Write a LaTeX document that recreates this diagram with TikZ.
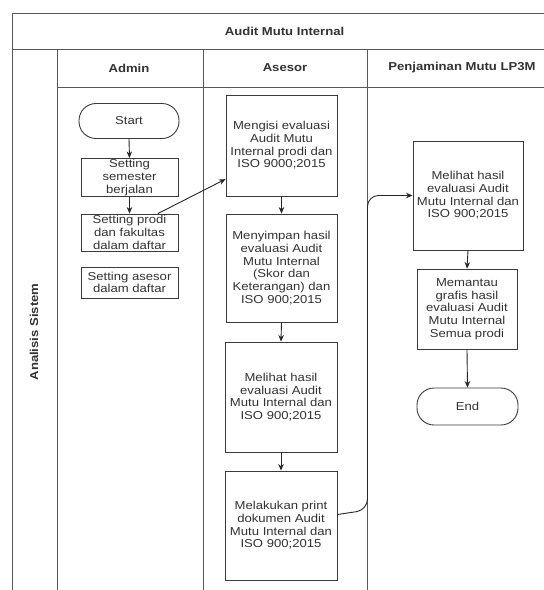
\documentclass[tikz,border=0pt]{standalone}
\usepackage{fontspec}
\setmainfont{Liberation Sans}[FakeStretch=1.14]
\usetikzlibrary{arrows.meta,calc}
\definecolor{ln}{HTML}{3A3A3A}
\definecolor{tx}{HTML}{333333}
\tikzset{
  box/.style={draw=ln,line width=0.9pt,rectangle,align=center,inner sep=1pt,text=tx,
    font=\fontsize{11.5}{12.7}\selectfont},
  term/.style={box,rounded corners=17pt},
  hdr/.style={font=\bfseries\fontsize{11.5}{12}\selectfont,text=tx},
  lane/.style={draw=ln!85,line width=0.9pt},
  arr/.style={draw=black!85,line width=0.9pt,-{Stealth[length=6.5pt,width=5.5pt]}}
}
\begin{document}
\begin{tikzpicture}[x=1pt,y=-1pt]
\useasboundingbox (0,0) rectangle (544,590);
\clip (0,0) rectangle (544,590);
\fill[white] (0,0) rectangle (544,590);
% pool
\draw[lane] (12,620) -- (12,13) -- (557,13) -- (557,620);
\draw[lane] (12,49) -- (557,49);
\draw[lane] (57,87) -- (557,87);
\draw[lane] (57,49) -- (57,620);
\draw[lane] (203,49) -- (203,620);
\draw[lane] (367,49) -- (367,620);
\node[hdr] (title) at (284.5,31) {Audit Mutu Internal};
\node[hdr] (hAdmin) at (129,68) {Admin};
\node[hdr] (hAses) at (285,68) {Asesor};
\node[hdr] (hPM) at (462,68) {Penjaminan Mutu LP3M};
\node[hdr,rotate=90] (pool) at (34,332) {Analisis Sistem};
% admin
\node[term,minimum width=100pt,minimum height=35pt] (start) at (129,121) {Start};
\node[box,minimum width=97pt,minimum height=37pt] (s1) at (129.5,177.5) {Setting\\semester\\berjalan};
\node[box,minimum width=97pt,minimum height=37pt] (s2) at (129.5,232.5) {Setting prodi\\dan fakultas\\dalam daftar};
\node[box,minimum width=97pt,minimum height=31pt] (s3) at (129.5,282.5) {Setting asesor\\dalam daftar};
% asesor
\node[box,minimum width=111pt,minimum height=101pt] (a1) at (281.5,145.5) {Mengisi evaluasi\\Audit Mutu\\Internal prodi dan\\ISO 9000;2015};
\node[box,minimum width=111pt,minimum height=108pt] (a2) at (281.5,268) {Menyimpan hasil\\evaluasi Audit\\Mutu Internal\\(Skor dan\\Keterangan) dan\\ISO 900;2015};
\node[box,minimum width=112pt,minimum height=110pt] (a3) at (281,397) {Melihat hasil\\evaluasi Audit\\Mutu Internal dan\\ISO 900;2015};
\node[box,minimum width=112pt,minimum height=109pt] (a4) at (281,525.5) {Melakukan print\\dokumen Audit\\Mutu Internal dan\\ISO 900;2015};
% penjaminan
\node[box,minimum width=110pt,minimum height=109pt] (p1) at (468,195.5) {Melihat hasil\\evaluasi Audit\\Mutu Internal dan\\ISO 900;2015};
\node[box,minimum width=100pt,minimum height=80pt] (p2) at (467,309) {Memantau\\grafis hasil\\evaluasi Audit\\Mutu Internal\\Semua prodi};
\node[term,minimum width=101pt,minimum height=37pt] (end) at (467.5,406.5) {End};
% connectors
\draw[arr] (start.south) -- (s1.north);
\draw[arr] (s1.south) -- (s2.north);
\draw[arr] ($(s2.north west)!0.79!(s2.north east)$) -- ($(a1.north west)!0.83!(a1.south west)$);
\draw[arr] (a1.south) -- (a2.north);
\draw[arr] (a2.south) -- (a3.north);
\draw[arr] (a3.south) -- (a4.north);
\coordinate (c1) at (367.5,510);
\coordinate (c2) at (367.5,195.5);
\draw[arr,rounded corners=11pt] ($(a4.north east)!0.4!(a4.south east)$) -- (c1) -- (c2) -- (p1.west);
\draw[arr] (p1.south) -- (p2.north);
\draw[arr] (p2.south) -- (end.north);
\end{tikzpicture}
\end{document}
